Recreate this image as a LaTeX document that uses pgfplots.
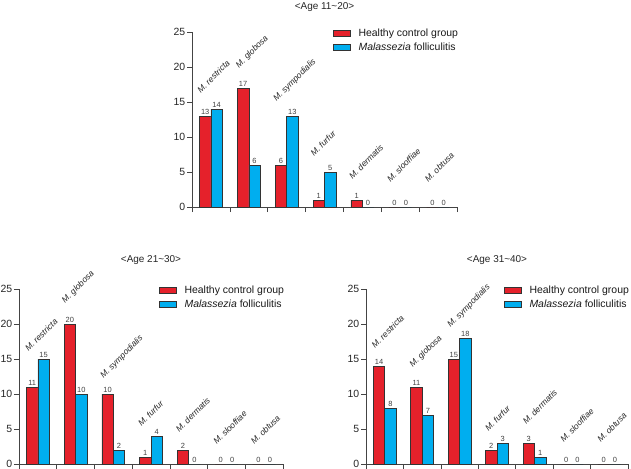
\documentclass[border=0pt]{standalone}
\usepackage{fontspec}
\setmainfont{Liberation Sans}
\usepackage{pgfplots}
\pgfplotsset{compat=1.18}
\definecolor{myred}{HTML}{E5212B}
\definecolor{myblue}{HTML}{00AEEF}
\definecolor{axgray}{HTML}{444444}
\tikzset{catlab/.style={rotate=45, anchor=base west, inner sep=0pt, font=\fontsize{8.5}{9}\selectfont\itshape, text=black!85}}
\pgfplotsset{
  panel/.style={
    scale only axis, width=#1, height=175bp,
    ymin=0, ymax=25, ytick={0,5,...,25},
    xmin=-0.5, xmax=6.5, xtick={-0.5,0.5,...,6.5}, xticklabels={},
    axis x line*=bottom, axis y line*=left,
    axis line style={-, draw=axgray, line width=0.7pt},
    tick style={draw=axgray, line width=0.7pt},
    tick align=outside, major tick length=5bp,
    /pgf/number format/assume math mode=true,
    yticklabel style={font=\fontsize{10.5}{12}\selectfont, text=black!85, inner sep=1.5bp},
    title style={font=\fontsize{10}{12}\selectfont, text=black!85, anchor=base, at={(0.5,1)}},
    legend style={draw=none, fill=none, at={(1.012,1.03)}, anchor=north east,
      font=\fontsize{10.5}{12}\selectfont, text=black!90, inner sep=0pt, row sep=0.5bp,
      column sep=6bp, cells={anchor=west}},
    ybar=0pt, bar width=11.4bp,
    nodes near coords,
    nodes near coords style={font=\fontsize{7.5}{8}\selectfont, text=black!75, inner sep=1.5bp},
    clip=false,
  },
  redbar/.style={fill=myred, draw=black!80, line width=0.5pt, area legend},
  bluebar/.style={fill=myblue, draw=black!80, line width=0.5pt, area legend},
}
\begin{document}
\begin{tikzpicture}
\path[use as bounding box] (0,0) rectangle (631bp,-469bp);
% Age 11~20
\begin{axis}[panel=265bp, at={(192bp,-207bp)}, anchor=south west,
  title={<Age 11\textasciitilde20>}, title style={yshift=17bp}]
\addplot[redbar] coordinates {(0,13) (1,17) (2,6) (3,1) (4,1) (5,0) (6,0)};
\addplot[bluebar] coordinates {(0,14) (1,6) (2,13) (3,5) (4,0) (5,0) (6,0)};
\legend{Healthy control group, \textit{Malassezia} folliculitis}
\node[catlab] at (axis cs:-0.27,16.2) {M. restricta};
\node[catlab] at (axis cs:0.74,19.8) {M. globosa};
\node[catlab] at (axis cs:1.73,15.0) {M. sympodialis};
\node[catlab] at (axis cs:2.72,7.2) {M. furfur};
\node[catlab] at (axis cs:3.74,3.9) {M. dermatis};
\node[catlab] at (axis cs:4.74,3.5) {M. slooffiae};
\node[catlab] at (axis cs:5.74,3.5) {M. obtusa};
\end{axis}
% Age 21~30
\begin{axis}[panel=264bp, at={(19bp,-464bp)}, anchor=south west,
  title={<Age 21\textasciitilde30>}, title style={yshift=21bp}]
\addplot[redbar] coordinates {(0,11) (1,20) (2,10) (3,1) (4,2) (5,0) (6,0)};
\addplot[bluebar] coordinates {(0,15) (1,10) (2,2) (3,4) (4,0) (5,0) (6,0)};
\legend{Healthy control group, \textit{Malassezia} folliculitis}
\node[catlab] at (axis cs:-0.25,16.0) {M. restricta};
\node[catlab] at (axis cs:0.72,22.9) {M. globosa};
\node[catlab] at (axis cs:1.74,12.2) {M. sympodialis};
\node[catlab] at (axis cs:2.75,5.3) {M. furfur};
\node[catlab] at (axis cs:3.75,4.5) {M. dermatis};
\node[catlab] at (axis cs:4.74,2.7) {M. slooffiae};
\node[catlab] at (axis cs:5.74,2.7) {M. obtusa};
\end{axis}
% Age 31~40
\begin{axis}[panel=262bp, at={(366bp,-464bp)}, anchor=south west,
  title={<Age 31\textasciitilde40>}, title style={yshift=21bp}]
\addplot[redbar] coordinates {(0,14) (1,11) (2,15) (3,2) (4,3) (5,0) (6,0)};
\addplot[bluebar] coordinates {(0,8) (1,7) (2,18) (3,3) (4,1) (5,0) (6,0)};
\legend{Healthy control group, \textit{Malassezia} folliculitis}
\node[catlab] at (axis cs:-0.26,16.5) {M. restricta};
\node[catlab] at (axis cs:0.75,13.7) {M. globosa};
\node[catlab] at (axis cs:1.76,19.5) {M. sympodialis};
\node[catlab] at (axis cs:2.77,4.6) {M. furfur};
\node[catlab] at (axis cs:3.78,5.6) {M. dermatis};
\node[catlab] at (axis cs:4.78,3.0) {M. slooffiae};
\node[catlab] at (axis cs:5.77,3.0) {M. obtusa};
\end{axis}
\end{tikzpicture}
\end{document}
